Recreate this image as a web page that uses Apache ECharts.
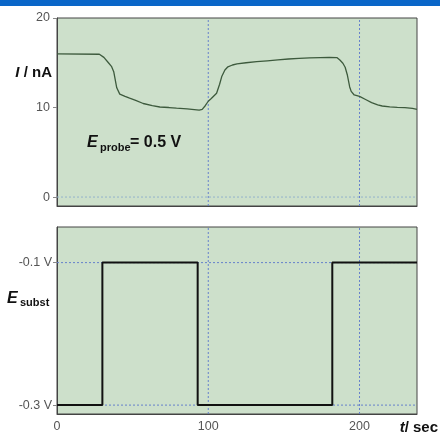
<!DOCTYPE html>
<html>
<head>
<meta charset="utf-8">
<style>html,body{margin:0;padding:0;background:#fff;}#c{width:440px;height:435px;}</style>
<script src="https://cdn.jsdelivr.net/npm/echarts@6/dist/echarts.min.js"></script>
</head>
<body>
<div id="c"></div>
<script>
// Probe current I (nA) vs time t (s)
var timeI = [0, 28, 31, 34, 36, 37.5, 39.5, 41.5, 45, 48, 52, 57, 63, 68, 74, 79, 86, 94, 96, 98, 100, 102, 105.5, 107.5, 109, 111, 113, 116, 119, 125, 132, 139, 146, 153, 160, 167, 174, 180, 185, 187, 189, 190.5, 192, 193.5, 194.5, 196.5, 200, 204, 208, 212, 215, 220, 225, 230, 235, 238];
var currentI = [16.0, 15.95, 15.6, 15.0, 14.6, 14.0, 12.2, 11.5, 11.25, 11.05, 10.8, 10.45, 10.2, 10.06, 10.0, 9.93, 9.85, 9.72, 9.8, 10.2, 10.7, 11.0, 11.6, 12.6, 13.5, 14.2, 14.55, 14.75, 14.88, 15.0, 15.12, 15.22, 15.32, 15.42, 15.5, 15.55, 15.58, 15.6, 15.58, 15.3, 14.95, 14.5, 13.6, 12.3, 11.8, 11.4, 11.25, 10.9, 10.55, 10.3, 10.17, 10.08, 10.02, 9.98, 9.9, 9.8];
// Substrate potential steps (V)
var switchTimes = [0, 30, 93, 182, 238];
var substLevels = [-0.3, -0.1, -0.3, -0.1, -0.1];
// Tick labels
var xTicks = [0, 100, 200];
var iTicks = [0, 10, 20];
var eTicks = [-0.1, -0.3];
var vGrid = [100, 200];
// axis ranges
var tRange = [0, 238];
var iRange = [-1, 20];
var eRange = [-0.3125, -0.05];

var topData = timeI.map(function (t, i) { return [t, currentI[i]]; });
var botData = switchTimes.map(function (t, i) { return [t, substLevels[i]]; });

var chart = echarts.init(document.getElementById('c'), null, {renderer: 'canvas'});
var labelStyle = {color: '#555', fontSize: 12.5, fontFamily: 'Liberation Sans, Arial, sans-serif'};
var axisLineStyle = {show: true, onZero: false, lineStyle: {color: '#444', width: 1}};
var dotBlue = {color: '#6580cc', type: [2, 2], width: 1};
var dotLight = {color: '#94b2cc', type: [2, 2], width: 1};

function gridLine(xi, yi, pts, style) {
  return {type: 'line', xAxisIndex: xi, yAxisIndex: yi, data: pts, z: 1, silent: true,
    showSymbol: false, symbol: 'none', lineStyle: style, emphasis: {disabled: true}};
}

var series = [];
// top panel grid lines
series.push(gridLine(0, 0, [[tRange[0], 0], [tRange[1], 0]], dotLight));
vGrid.forEach(function (v) { series.push(gridLine(0, 0, [[v, iRange[0]], [v, iRange[1]]], dotBlue)); });
// bottom panel grid lines
eTicks.forEach(function (e) { series.push(gridLine(1, 1, [[tRange[0], e], [tRange[1], e]], dotBlue)); });
vGrid.forEach(function (v) { series.push(gridLine(1, 1, [[v, eRange[0]], [v, eRange[1]]], dotBlue)); });
// data
series.push({type: 'line', xAxisIndex: 0, yAxisIndex: 0, data: topData, z: 3, showSymbol: false, symbol: 'none',
  lineStyle: {color: '#3d5a3d', width: 1.3}});
series.push({type: 'line', xAxisIndex: 1, yAxisIndex: 1, data: botData, z: 3, step: 'end', showSymbol: false, symbol: 'none',
  lineStyle: {color: '#111', width: 2}});

var option = {
  animation: false,
  graphic: [
    {type: 'rect', shape: {x: 0, y: 0, width: 440, height: 6}, style: {fill: '#0a66c8'}},
    {type: 'text', x: 52, y: 73, style: {text: '{i|I}{b| / nA}', align: 'right', verticalAlign: 'middle',
      rich: {i: {fontSize: 15, fontWeight: 'bold', fontStyle: 'italic', fontFamily: 'Liberation Sans', fill: '#111'},
             b: {fontSize: 15, fontWeight: 'bold', fontFamily: 'Liberation Sans', fill: '#111'}}}},
    {type: 'text', x: 87, y: 143, style: {text: 'E', fontSize: 16, fontWeight: 'bold', fontStyle: 'italic', fontFamily: 'Liberation Sans', fill: '#111', verticalAlign: 'middle'}},
    {type: 'text', x: 100, y: 148, style: {text: 'probe', fontSize: 11, fontWeight: 'bold', fontFamily: 'Liberation Sans Narrow, Liberation Sans', fill: '#111', verticalAlign: 'middle'}},
    {type: 'text', x: 130, y: 143, style: {text: '= 0.5 V', fontSize: 16, fontWeight: 'bold', fontFamily: 'Liberation Sans', fill: '#111', verticalAlign: 'middle'}},
    {type: 'text', x: 7, y: 299, style: {text: 'E', fontSize: 16, fontWeight: 'bold', fontStyle: 'italic', fontFamily: 'Liberation Sans', fill: '#111', verticalAlign: 'middle'}},
    {type: 'text', x: 20, y: 303, style: {text: 'subst', fontSize: 11, fontWeight: 'bold', fontFamily: 'Liberation Sans Narrow, Liberation Sans', fill: '#111', verticalAlign: 'middle'}},
    {type: 'text', x: 438, y: 428, style: {text: '{i|t}{b|/ sec}', align: 'right', verticalAlign: 'middle',
      rich: {i: {fontSize: 15, fontWeight: 'bold', fontStyle: 'italic', fontFamily: 'Liberation Sans', fill: '#111'},
             b: {fontSize: 15, fontWeight: 'bold', fontFamily: 'Liberation Sans', fill: '#111'}}}}
  ],
  grid: [
    {left: 57, top: 18, width: 360, height: 188, show: true, backgroundColor: '#cde0cb', borderColor: '#444', borderWidth: 1},
    {left: 57, top: 227, width: 360, height: 187, show: true, backgroundColor: '#cde0cb', borderColor: '#444', borderWidth: 1}
  ],
  xAxis: [
    {type: 'value', gridIndex: 0, min: tRange[0], max: tRange[1], axisLine: axisLineStyle, axisTick: {show: false}, axisLabel: {show: false}, splitLine: {show: false}},
    {type: 'value', gridIndex: 1, min: tRange[0], max: tRange[1], axisLine: axisLineStyle, axisTick: {show: false},
      axisLabel: Object.assign({customValues: xTicks, margin: 6}, labelStyle), splitLine: {show: false}}
  ],
  yAxis: [
    {type: 'value', gridIndex: 0, min: iRange[0], max: iRange[1], axisLine: axisLineStyle,
      axisTick: {show: true, customValues: iTicks, length: 4, lineStyle: {color: '#888'}},
      axisLabel: Object.assign({customValues: iTicks, margin: 7}, labelStyle), splitLine: {show: false}},
    {type: 'value', gridIndex: 1, min: eRange[0], max: eRange[1], axisLine: axisLineStyle,
      axisTick: {show: true, customValues: eTicks, length: 4, lineStyle: {color: '#888'}},
      axisLabel: Object.assign({customValues: eTicks, margin: 5, formatter: function (v) { return v + ' V'; }}, labelStyle), splitLine: {show: false}}
  ],
  series: series
};
chart.setOption(option);
</script>
</body>
</html>
